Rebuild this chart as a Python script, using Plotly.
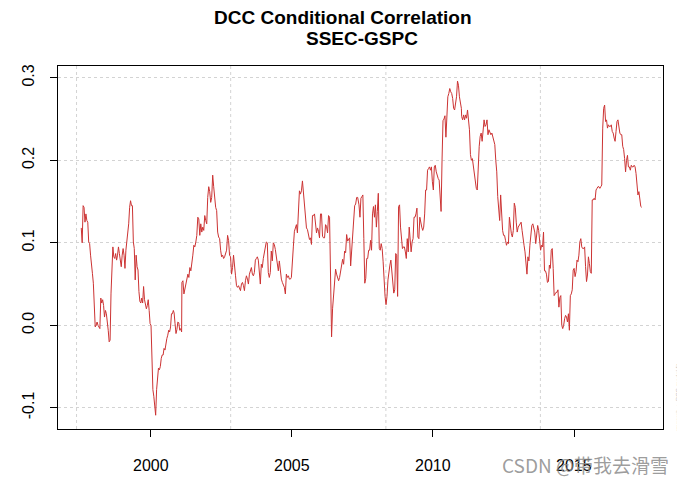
import pandas as pd
import plotly.graph_objects as go

# ---- data (DCC conditional correlation SSEC-GSPC) ----
seg_bounds = [
    ("1997-07-16", "2000-10-20"),
    ("2000-10-30", "2001-02-04"),
    ("2001-02-08", "2004-02-05"),
    ("2004-02-18", "2007-05-16"),
    ("2007-05-20", "2011-01-04"),
    ("2011-01-08", "2014-01-22"),
    ("2014-02-04", "2017-05-27"),
]

corr_1997_2000 = [
    0.118, 0.100, 0.145, 0.143, 0.125, 0.135, 0.127, 0.125, 0.101, 0.099,
    0.085, 0.069, 0.063, 0.051, 0.027, -0.002, 0.000, 0.004, 0.000, -0.002,
    -0.004, 0.033, 0.027, 0.031, 0.024, 0.010, 0.018, 0.014, 0.006, -0.006,
    -0.020, -0.018, 0.039, 0.079, 0.095, 0.083, 0.081, 0.087, 0.079, 0.085,
    0.095, 0.087, 0.079, 0.071, 0.085, 0.093, 0.085, 0.069, 0.091, 0.101,
    0.117, 0.123, 0.143, 0.151, 0.145, 0.145, 0.101, 0.093, 0.055, 0.085,
    0.071, 0.067, 0.041, 0.029, 0.027, 0.033, 0.027, 0.047, 0.031, 0.024,
    0.020, 0.024, 0.031, 0.018, 0.002, 0.000, -0.054, -0.078, -0.086, -0.100,
    -0.109, -0.078, -0.066, -0.052, -0.054, -0.050, -0.040, -0.036, -0.036, -0.028,
    -0.030, -0.020, -0.016, -0.012, -0.006, -0.008, -0.002, 0.014, 0.014, 0.018,
]
corr_2000_2001 = [0.015, 0.002, -0.010, -0.005, 0.004, 0.003, -0.006, -0.004, -0.008]
corr_2001_2004 = [
    0.052, 0.054, 0.038, 0.044, 0.050, 0.060, 0.062, 0.058, 0.070, 0.066,
    0.074, 0.085, 0.097, 0.095, 0.101, 0.109, 0.131, 0.129, 0.109, 0.123,
    0.113, 0.119, 0.115, 0.133, 0.127, 0.123, 0.155, 0.168, 0.162, 0.149,
    0.155, 0.182, 0.168, 0.153, 0.143, 0.139, 0.113, 0.107, 0.105, 0.091,
    0.083, 0.085, 0.081, 0.083, 0.089, 0.091, 0.109, 0.103, 0.085, 0.083,
    0.062, 0.070, 0.085, 0.066, 0.060, 0.048, 0.046, 0.048, 0.044, 0.042,
    0.050, 0.052, 0.048, 0.042, 0.054, 0.060, 0.056, 0.050, 0.062, 0.068,
    0.070, 0.062, 0.060, 0.064, 0.079, 0.081, 0.083, 0.079, 0.064, 0.050,
    0.074, 0.070, 0.081, 0.087, 0.093, 0.101,
]
corr_2004_2007 = [
    0.100, 0.064, 0.058, 0.064, 0.090, 0.078, 0.100, 0.098, 0.092, 0.082,
    0.070, 0.066, 0.078, 0.064, 0.056, 0.052, 0.048, 0.046, 0.038, 0.062,
    0.058, 0.060, 0.056, 0.056, 0.058, 0.072, 0.096, 0.114, 0.118, 0.122,
    0.112, 0.137, 0.163, 0.159, 0.163, 0.175, 0.159, 0.149, 0.129, 0.118,
    0.116, 0.110, 0.104, 0.106, 0.098, 0.133, 0.133, 0.135, 0.122, 0.112,
    0.118, 0.114, 0.106, 0.135, 0.135, 0.108, 0.106, 0.106, 0.122, 0.120,
    0.112, 0.133, 0.131, 0.064, -0.014, 0.020, 0.040,
    0.050, 0.068, 0.062, 0.058, 0.054, 0.058, 0.066, 0.076, 0.080, 0.074,
    0.090, 0.088, 0.110, 0.102, 0.104, 0.106, 0.072, 0.088, 0.108, 0.129,
    0.145, 0.147, 0.155, 0.155, 0.149,
]
corr_2007_2011 = [
    0.146, 0.131, 0.154, 0.156, 0.158, 0.105, 0.051, 0.057, 0.081, 0.081,
    0.091, 0.091, 0.103, 0.091, 0.135, 0.144, 0.131, 0.146, 0.119, 0.138,
    0.160, 0.093, 0.091, 0.099, 0.093, 0.077, 0.051, 0.035, 0.025, 0.035,
    0.055, 0.067, 0.073, 0.079, 0.065, 0.053, 0.039, 0.043, 0.087, 0.085,
    0.035, 0.144, 0.146, 0.119, 0.099, 0.093, 0.095, 0.095, 0.089, 0.081,
    0.105, 0.089, 0.119, 0.107, 0.089, 0.101, 0.105, 0.131, 0.131, 0.135,
    0.142, 0.107, 0.105, 0.131, 0.123, 0.119, 0.115, 0.119, 0.135, 0.164,
    0.164, 0.188, 0.190, 0.192, 0.188, 0.192, 0.174, 0.164, 0.192, 0.194,
    0.186, 0.180, 0.178, 0.176, 0.156, 0.138, 0.200, 0.248, 0.250, 0.254,
    0.228, 0.248, 0.277, 0.281, 0.287, 0.283,
    0.281, 0.275, 0.263, 0.261, 0.267, 0.277, 0.296, 0.291, 0.277, 0.269, 0.263,
]
corr_2011_2014 = [
    0.253, 0.249, 0.255, 0.249, 0.255, 0.251, 0.261, 0.251, 0.237, 0.207,
    0.200, 0.202, 0.192, 0.188, 0.176, 0.166, 0.164, 0.196, 0.217, 0.229,
    0.233, 0.223, 0.233, 0.249, 0.241, 0.243, 0.249, 0.231, 0.237, 0.233,
    0.231, 0.233, 0.227, 0.225, 0.219, 0.200, 0.186, 0.156, 0.139, 0.127,
    0.158, 0.135, 0.115, 0.109, 0.109, 0.103, 0.097, 0.101, 0.099, 0.131,
    0.115, 0.111, 0.107, 0.115, 0.148, 0.143, 0.125, 0.113, 0.119, 0.121,
    0.123, 0.125, 0.115, 0.103, 0.097, 0.089, 0.068, 0.062, 0.083, 0.078,
    0.097, 0.115, 0.121, 0.123, 0.117, 0.113, 0.099, 0.113, 0.121, 0.115,
    0.101, 0.091, 0.097, 0.095, 0.113, 0.066, 0.066, 0.062, 0.052,
]
corr_2014_2017 = [
    0.053, 0.073, 0.069, 0.091, 0.093, 0.069, 0.036, 0.038, 0.040, 0.040,
    0.043, 0.022, 0.034, 0.036, 0.000, -0.004, 0.000, 0.008, 0.012, 0.010,
    0.004, 0.014, -0.006, 0.036, 0.038, 0.043, 0.067, 0.069, 0.059, 0.065,
    0.079, 0.077, 0.085, 0.101, 0.105, 0.095, 0.093, 0.093, 0.095, 0.071,
    0.053, 0.061, 0.083, 0.075, 0.065, 0.063, 0.152, 0.152, 0.154, 0.152,
    0.164, 0.166, 0.168, 0.168, 0.166, 0.168, 0.170, 0.239, 0.263, 0.267,
    0.247, 0.249, 0.239, 0.243, 0.241, 0.241, 0.243, 0.235, 0.233, 0.227,
    0.223, 0.235, 0.247, 0.249, 0.237, 0.233, 0.231, 0.231, 0.217, 0.213,
    0.202, 0.186, 0.200, 0.206, 0.192, 0.192, 0.188, 0.194, 0.192, 0.192,
    0.194, 0.192, 0.184, 0.168, 0.158, 0.162, 0.148, 0.144, 0.143,
]

segments = [corr_1997_2000, corr_2000_2001, corr_2001_2004, corr_2004_2007,
            corr_2007_2011, corr_2011_2014, corr_2014_2017]

x_tick_vals = ["2000-01-01", "2005-01-01", "2010-01-01", "2015-01-01"]
x_tick_text = ["2000", "2005", "2010", "2015"]
y_tick_vals = [-0.1, 0.0, 0.1, 0.2, 0.3]
y_tick_text = ["-0.1", "0.0", "0.1", "0.2", "0.3"]
v_grid_dates = ["1997-05-16", "2002-11-01", "2008-05-02", "2013-10-23"]

# ---- build series ----
dates, values = [], []
for (d0, d1), seg in zip(seg_bounds, segments):
    dates.extend(pd.date_range(d0, d1, periods=len(seg)))
    values.extend(seg)

fig = go.Figure()
fig.add_trace(go.Scatter(x=dates, y=values, mode="lines",
                         line=dict(color="#cc3333", width=1),
                         hoverinfo="x+y", showlegend=False))

font_main = "Liberation Sans, Arial, sans-serif"

for d in v_grid_dates:
    fig.add_shape(type="line", x0=d, x1=d, xref="x", yref="paper", y0=0, y1=1,
                  line=dict(color="#d3d3d3", width=1, dash="3px,3px"), layer="below")

# the page body has an 8px default margin, so the figure is 8px smaller
fig.update_layout(
    width=677, height=471, autosize=False,
    margin=dict(l=48, r=22, t=58, b=50),
    paper_bgcolor="white", plot_bgcolor="white",
    font=dict(family=font_main, color="black"),
    showlegend=False,
    xaxis=dict(
        type="date", range=["1996-09-18", "2018-02-26"],
        tickmode="array", tickvals=x_tick_vals, ticktext=x_tick_text,
        showticklabels=False,
        ticks="outside", ticklen=7, tickwidth=1, tickcolor="black",
        showline=True, mirror=True, linecolor="black", linewidth=1,
        showgrid=False, zeroline=False,
    ),
    yaxis=dict(
        range=[-0.1257, 0.3143],
        tickmode="array", tickvals=y_tick_vals, ticktext=y_tick_text,
        tickangle=-90,
        ticks="outside", ticklen=7, tickwidth=1, tickcolor="black",
        showline=True, mirror=True, linecolor="black", linewidth=1,
        showgrid=True, gridcolor="#d3d3d3", gridwidth=1, griddash="3px,3px",
        zeroline=False,
        tickfont=dict(size=16, family=font_main, color="black"),
        ticklabelstandoff=10,
    ),
)

# x tick labels, placed lower (as in the R plot)
for tv, tt in zip(x_tick_vals, x_tick_text):
    fig.add_annotation(
        text=tt, xref="x", yref="paper", x=tv, y=(429 - 465) / 363,
        xanchor="center", yanchor="middle", showarrow=False,
        font=dict(size=16, family=font_main, color="black"),
    )

annotations = [
    dict(text="<b>DCC Conditional Correlation</b>", x=342, y=17),
    dict(text="<b>SSEC-GSPC</b>", x=361, y=38),
]
for a in annotations:
    fig.add_annotation(
        text=a["text"], xref="paper", yref="paper",
        x=(a["x"] - 56) / 607, y=(429 - a["y"]) / 363,
        xanchor="center", yanchor="middle", showarrow=False,
        font=dict(size=19, family=font_main, color="black"),
    )

fig.add_annotation(
    text="rmgarch  :  DCC model fit", xref="paper", yref="paper",
    x=(678.5 - 56) / 607, y=(429 - 397) / 363, textangle=-90,
    xanchor="center", yanchor="middle", showarrow=False,
    font=dict(size=6, family=font_main, color="#c0c0c0"),
)
fig.add_annotation(
    text="CSDN @带我去滑雪", xref="paper", yref="paper",
    x=(585 - 56) / 607, y=(429 - 464) / 363,
    xanchor="center", yanchor="middle", showarrow=False,
    font=dict(size=19, family="Noto Sans CJK SC, sans-serif", color="rgba(140,140,140,0.85)"),
)

fig.write_html("out.html")
